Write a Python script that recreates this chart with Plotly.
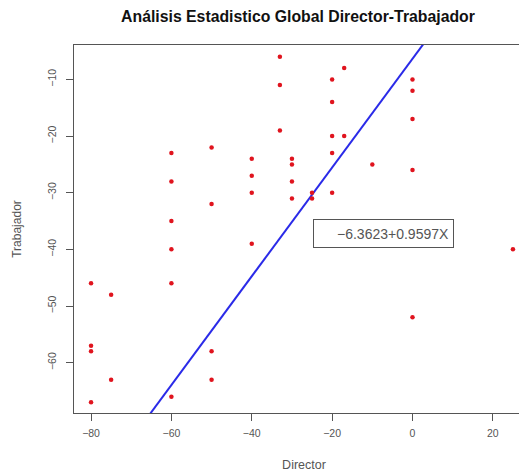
import plotly.graph_objects as go

director = [-33, -33, -33, -60, -50, -40, -30, -30, -60, -40, -40, -30, -30, -50, -60,
            -60, -40, -80, -60, -75, -80, -80, -50, -75, -50, -60, -80,
            -17, -20, 0, 0, -20, 0, -20, -17, -20, -10, 0, -20, -25, -25,
            25, 0]
trabajador = [-6, -11, -19, -23, -22, -24, -24, -25, -28, -27, -30, -28, -31, -32, -35,
              -40, -39, -46, -46, -48, -57, -58, -58, -63, -63, -66, -67,
              -8, -10, -10, -12, -14, -17, -20, -20, -23, -25, -26, -30, -30, -31,
              -40, -52]
intercept = -6.3623
slope = 0.9597
x_ticks = [-80, -60, -40, -20, 0, 20]
y_ticks = [-60, -50, -40, -30, -20, -10]

x_range = [-84.24, 30.24]
y_range = [-68.88, -3.93]

line_x = [-100, 60]
line_y = [intercept + slope * v for v in line_x]

# page body has an 8px offset; figure coordinates are compensated for it
OFF = 8
W, H = 527, 472
ML, MR, MT, MB = 74 - OFF, 1, 45 - OFF, H - (413 - OFF)
plot_w = W - ML - MR
plot_h = H - MT - MB

fig = go.Figure()
fig.add_trace(go.Scatter(x=line_x, y=line_y, mode="lines",
                         line=dict(color="#2a2ae8", width=2), hoverinfo="skip"))
fig.add_trace(go.Scatter(x=director, y=trabajador, mode="markers",
                         marker=dict(color="#e0141e", size=4.5)))

FONT = "Liberation Sans, Arial"
axis_font = dict(family=FONT, size=10.5, color="#555555")
fig.update_layout(
    width=W, height=H,
    margin=dict(l=ML, r=MR, t=MT, b=MB),
    plot_bgcolor="white", paper_bgcolor="white",
    showlegend=False,
    title=dict(text="<b>Análisis Estadistico Global Director-Trabajador</b>",
               x=(298 - OFF) / W, xanchor="center", y=1 - (16 - OFF) / H, yanchor="middle",
               font=dict(family=FONT, size=15.8, color="#111111")),
    xaxis=dict(range=x_range, tickvals=x_ticks, showgrid=False, zeroline=False,
               automargin=False,
               showline=True, linecolor="#555555", linewidth=1, mirror=True,
               ticks="outside", ticklen=7, tickcolor="#555555",
               tickfont=axis_font, ticklabelstandoff=3,
               title=dict(text="Director", font=dict(family=FONT, size=12.5, color="#555555"),
                          standoff=22)),
    yaxis=dict(range=y_range, tickvals=y_ticks, showgrid=False, zeroline=False,
               automargin=False,
               showline=True, linecolor="#555555", linewidth=1, mirror=True,
               ticks="outside", ticklen=7, tickcolor="#555555",
               tickangle=-90, tickfont=axis_font, ticklabelstandoff=6,
               title=dict(text="Trabajador", font=dict(family=FONT, size=12, color="#555555"),
                          standoff=21)),
    annotations=[dict(x=((313 + 454) / 2 - OFF - ML) / plot_w,
                      y=1 - (233.5 - OFF - MT) / plot_h,
                      xref="paper", yref="paper", xanchor="center", yanchor="middle",
                      text=f"\u2212{abs(intercept):.4f}+{slope:.4f}X", showarrow=False,
                      font=dict(family=FONT, size=14, color="#555555"),
                      bordercolor="#555555", borderwidth=1, borderpad=4,
                      width=131, height=19, align="right")]
)
fig.write_html("out.html")
